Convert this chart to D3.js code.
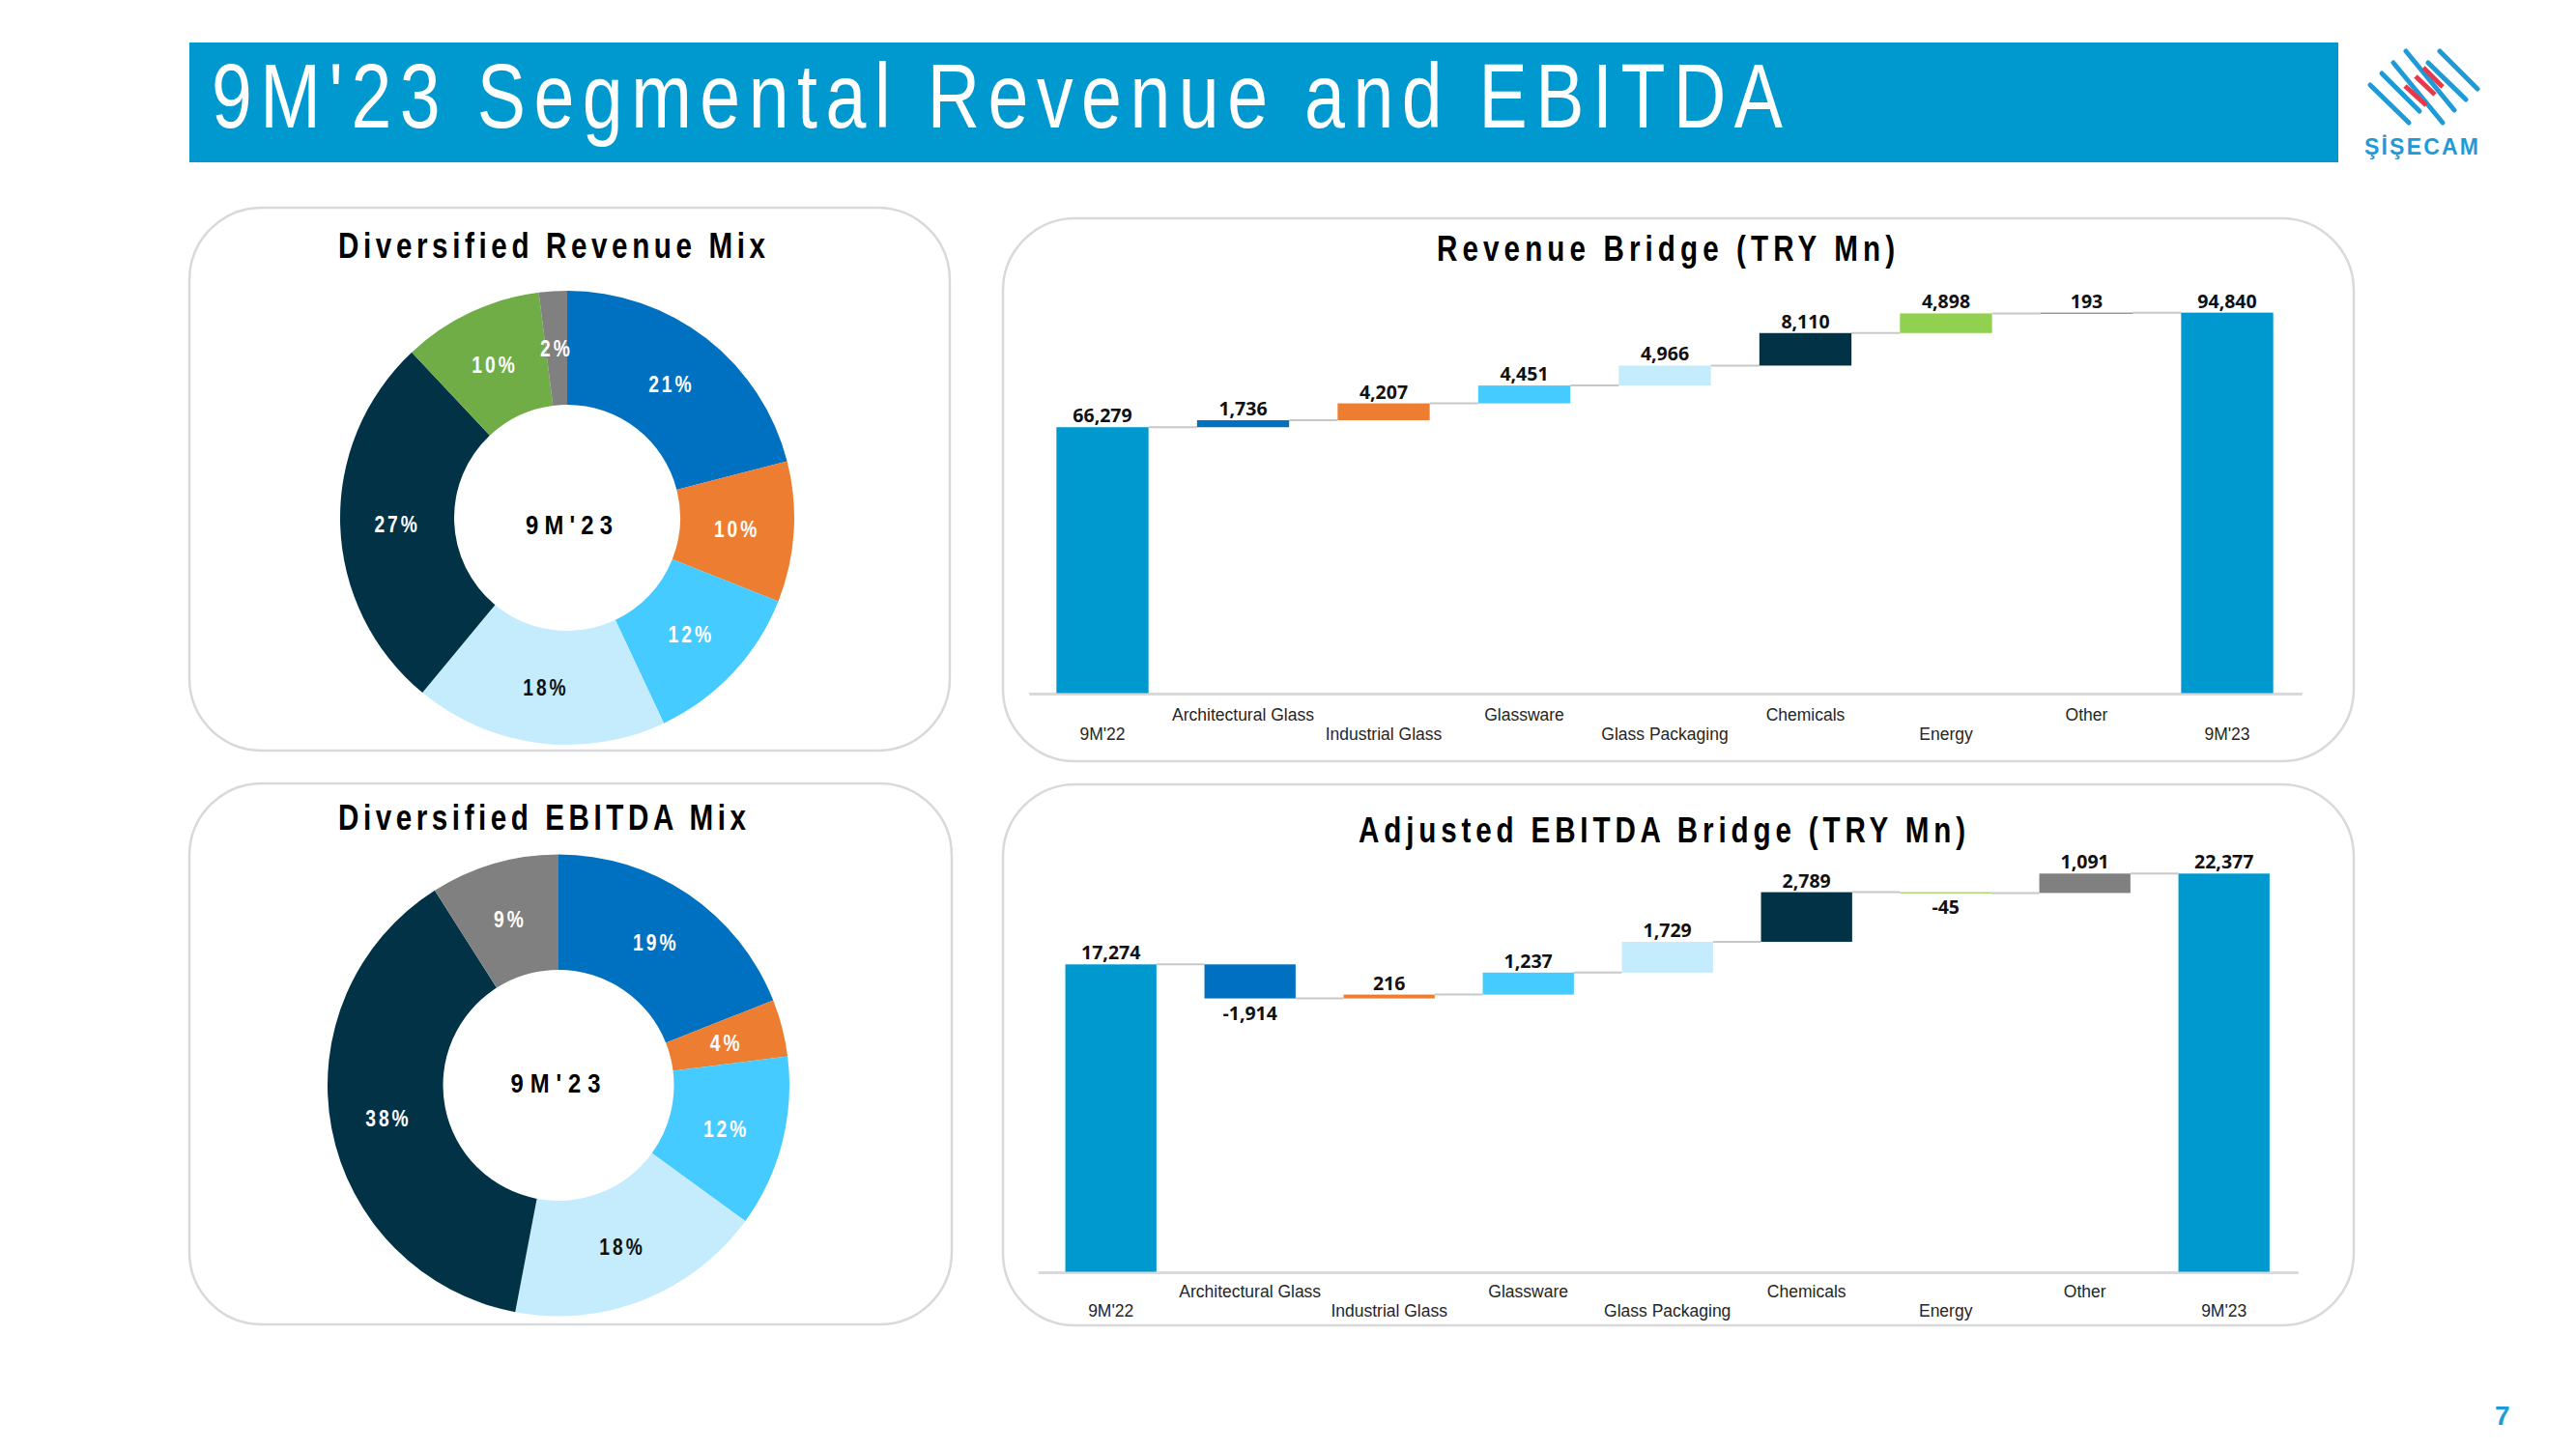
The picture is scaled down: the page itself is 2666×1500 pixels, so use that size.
<!DOCTYPE html>
<html><head><meta charset="utf-8">
<script src="https://cdn.jsdelivr.net/npm/d3@7"></script>
<style>
html,body{margin:0;padding:0;background:#fff;}
svg{display:block;font-family:"Liberation Sans",Arial,sans-serif;}
</style></head><body>
<svg id="chart" width="2666" height="1500"></svg>
<script>
// ---------------- DATA ----------------
const titleText = "9M'23 Segmental Revenue and EBITDA";
const periodLabel = "9M'23";
const pageNumber = "7";
const logoText = "ŞİŞECAM";

const revenueMixTitle = "Diversified Revenue Mix";
const revenueMixSegments = ["Architectural Glass","Industrial Glass","Glassware","Glass Packaging","Chemicals","Energy","Other"];
const revenueMixValues = [21, 10, 12, 18, 27, 10, 2];

const ebitdaMixTitle = "Diversified EBITDA Mix";
const ebitdaMixSegments = ["Architectural Glass","Industrial Glass","Glassware","Glass Packaging","Chemicals","Other"];
const ebitdaMixValues = [19, 4, 12, 18, 38, 9];

const bridgeCategories = ["9M'22","Architectural Glass","Industrial Glass","Glassware","Glass Packaging","Chemicals","Energy","Other","9M'23"];

const revenueBridgeTitle = "Revenue Bridge (TRY Mn)";
const revenueStart = 66279;
const revenueDeltas = [1736, 4207, 4451, 4966, 8110, 4898, 193];
const revenueEnd = 94840;

const ebitdaBridgeTitle = "Adjusted EBITDA Bridge (TRY Mn)";
const ebitdaStart = 17274;
const ebitdaDeltas = [-1914, 216, 1237, 1729, 2789, -45, 1091];
const ebitdaEnd = 22377;

// ---------------- STYLES ----------------
const blueMain = "#0099CF";
const segColor = {
  "Architectural Glass":"#0070C0",
  "Industrial Glass":"#ED7D31",
  "Glassware":"#45CBFF",
  "Glass Packaging":"#C4ECFC",
  "Chemicals":"#013246",
  "Energy":"#70AD47",
  "Other":"#808080"
};
const bridgeColor = Object.assign({}, segColor, {"Energy":"#92D050","9M'22":blueMain,"9M'23":blueMain});
const darkLabelSegs = new Set(["Glass Packaging"]);
const fmt = d3.formatLocale({decimal:".", thousands:",", grouping:[3], currency:["",""], minus:"-"}).format(",");

const svg = d3.select("#chart");

// narrow, letter-spaced text helper
function narrowText(parent, o) {
  const t = parent.append("text")
    .attr("transform", `translate(${o.x},${o.y}) scale(${o.sx||1},1)`)
    .attr("font-size", o.size)
    .attr("font-weight", o.weight || "normal")
    .attr("fill", o.fill || "#000")
    .attr("text-anchor", o.anchor || "start")
    .text(o.text);
  if (o.width) t.attr("textLength", o.width / (o.sx||1)).attr("lengthAdjust", "spacing");
  if (o.ls) t.attr("letter-spacing", o.ls / (o.sx||1));
  return t;
}

// ---------------- HEADER ----------------
svg.append("rect").attr("x",196).attr("y",44).attr("width",2224).attr("height",124).attr("fill",blueMain);
narrowText(svg, {text:titleText, x:219, y:132, size:94, sx:0.8, width:1626, fill:"#fff"});

// logo
const logo = svg.append("g").attr("transform","translate(2420,30)");
const logoBlue = [[33,58,73,97],[45,46,84,85],[57,35,108,97],[70,23,120,84],[93,35,132,73],[105,23,144,62]];
const logoRed = [[69,59,91,79],[80,49,100,68],[88,40,108,60]];
logo.selectAll("line.b").data(logoBlue).join("line").attr("class","b")
  .attr("x1",d=>d[0]).attr("y1",d=>d[1]).attr("x2",d=>d[2]).attr("y2",d=>d[3])
  .attr("stroke","#1E9BD7").attr("stroke-width",5).attr("stroke-linecap","round");
logo.selectAll("line.r").data(logoRed).join("line").attr("class","r")
  .attr("x1",d=>d[0]).attr("y1",d=>d[1]).attr("x2",d=>d[2]).attr("y2",d=>d[3])
  .attr("stroke","#E8394B").attr("stroke-width",5);
narrowText(svg, {text:logoText, x:2447, y:160, size:23, weight:"bold", width:118, fill:"#1E9BD7"});

// page number
svg.append("text").attr("x",2582).attr("y",1475).attr("font-size",28).attr("font-weight","bold")
  .attr("fill","#1E9BD7").text(pageNumber);

// ---------------- PANELS ----------------
const panels = [[196,215,787,562],[1038,226,1398,562],[196,811,789,560],[1038,812,1398,560]];
svg.selectAll("rect.panel").data(panels).join("rect").attr("class","panel")
  .attr("x",d=>d[0]).attr("y",d=>d[1]).attr("width",d=>d[2]).attr("height",d=>d[3])
  .attr("rx",75).attr("ry",75).attr("fill","#fff").attr("stroke","#D9D9D9").attr("stroke-width",2.5);

// ---------------- DONUTS ----------------
function donut(o) {
  const g = svg.append("g").attr("transform",`translate(${o.cx},${o.cy})`);
  const data = o.segs.map((s,i)=>({s, v:o.vals[i]}));
  const arcs = d3.pie().sort(null).value(d=>d.v)(data);
  const arc = d3.arc().innerRadius(o.r).outerRadius(o.R);
  g.selectAll("path").data(arcs).join("path").attr("d",arc).attr("fill",d=>segColor[d.data.s]);
  arcs.forEach(a=>{
    const c = arc.centroid(a);
    narrowText(g, {text:a.data.v+"%", x:c[0], y:c[1]+9, size:24, weight:"bold", sx:0.8, ls:3,
      anchor:"middle", fill: darkLabelSegs.has(a.data.s) ? "#111" : "#fff"});
  });
  narrowText(svg, {text:periodLabel, x:o.tx, y:o.ty, size:28, weight:"bold", sx:0.85, width:o.tw, anchor:"middle", fill:"#000"});
  narrowText(svg, {text:o.title, x:o.titleX, y:o.titleY, size:37, weight:"bold", sx:0.8, width:o.titleW, fill:"#000"});
}
donut({cx:587, cy:536, R:235, r:117, segs:revenueMixSegments, vals:revenueMixValues,
  tx:589, ty:553, tw:90, title:revenueMixTitle, titleX:350, titleY:267, titleW:442});
donut({cx:578, cy:1123.5, R:239, r:119.5, segs:ebitdaMixSegments, vals:ebitdaMixValues,
  tx:575, ty:1131, tw:93, title:ebitdaMixTitle, titleX:350, titleY:859, titleW:422});

// ---------------- BRIDGES ----------------
function bridge(o) {
  const g = svg.append("g");
  const x = d3.scaleBand().domain(bridgeCategories).range([o.x0,o.x1]).paddingInner(0.345).paddingOuter(0.1725);
  const y = d3.scaleLinear().domain([0,o.maxV]).range([o.base, o.base - o.maxV*o.k]);
  const steps = [];
  steps.push({cat:bridgeCategories[0], lo:0, hi:o.start, end:o.start, v:o.start});
  let run = o.start;
  o.deltas.forEach((d,i)=>{
    const nxt = run + d;
    steps.push({cat:bridgeCategories[i+1], lo:Math.min(run,nxt), hi:Math.max(run,nxt), end:nxt, v:d});
    run = nxt;
  });
  steps.push({cat:bridgeCategories[bridgeCategories.length-1], lo:0, hi:o.end, end:o.end, v:o.end});

  g.append("line").attr("x1",o.x0-3).attr("x2",o.x1+5).attr("y1",o.base+1).attr("y2",o.base+1)
    .attr("stroke","#D9D9D9").attr("stroke-width",3);
  for (let i=0;i<steps.length-1;i++){
    const yy = y(steps[i].end);
    g.append("line").attr("x1",x(steps[i].cat)+x.bandwidth()).attr("x2",x(steps[i+1].cat))
      .attr("y1",yy).attr("y2",yy).attr("stroke","#C8C8C8").attr("stroke-width",2);
  }
  g.selectAll("rect.bar").data(steps).join("rect").attr("class","bar")
    .attr("x",d=>x(d.cat)).attr("width",x.bandwidth())
    .attr("y",d=>y(d.hi)).attr("height",d=>Math.max(1.2, y(d.lo)-y(d.hi)))
    .attr("fill",d=>bridgeColor[d.cat]);
  g.selectAll("text.val").data(steps).join("text").attr("class","val")
    .attr("x",d=>x(d.cat)+x.bandwidth()/2)
    .attr("y",d=>d.v<0 ? y(d.lo)+22 : y(d.hi)-5)
    .attr("text-anchor","middle").attr("font-family","'Open Sans',sans-serif")
    .attr("font-weight",700).attr("font-size",19.5).attr("fill","#111")
    .text(d=>fmt(d.v));
  g.selectAll("text.cat").data(bridgeCategories).join("text").attr("class","cat")
    .attr("x",d=>x(d)+x.bandwidth()/2)
    .attr("y",(d,i)=> i%2===1 ? o.base+o.row1 : o.base+o.row2)
    .attr("text-anchor","middle").attr("font-size",17.5).attr("fill","#262626")
    .text(d=>d);
  narrowText(svg, {text:o.title, x:o.titleX, y:o.titleY, size:37, weight:"bold", sx:0.8, width:o.titleW, fill:"#000"});
}
bridge({start:revenueStart, deltas:revenueDeltas, end:revenueEnd, x0:1068.25, x1:2377.75,
  base:717.5, k:0.004153, maxV:100000, row1:28, row2:48,
  title:revenueBridgeTitle, titleX:1487, titleY:270, titleW:474});
bridge({start:ebitdaStart, deltas:ebitdaDeltas, end:ebitdaEnd, x0:1077.7, x1:2373.7,
  base:1316.5, k:0.01842, maxV:25000, row1:26, row2:46,
  title:ebitdaBridgeTitle, titleX:1406, titleY:872, titleW:628});
</script>
</body></html>
